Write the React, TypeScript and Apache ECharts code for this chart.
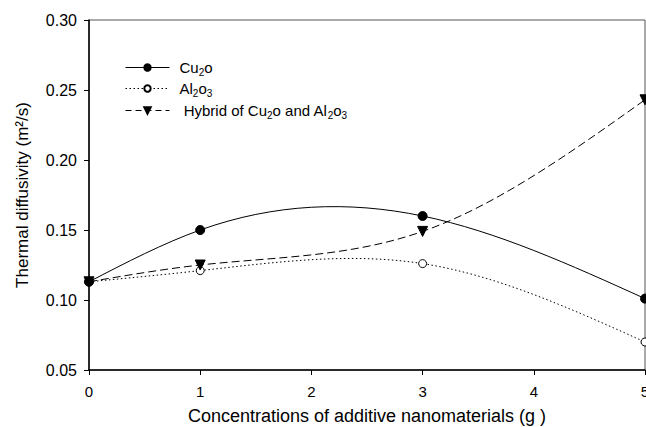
import React, { useEffect, useRef } from "react";
import * as echarts from "echarts";

const xValues = [0, 1, 3, 5];
const cu2o = [0.113, 0.15, 0.16, 0.101];
const al2o3 = [0.113, 0.121, 0.126, 0.07];
const hybrid = [0.113, 0.125, 0.149, 0.243];
const yTicks = { min: 0.05, max: 0.3, interval: 0.05 };
const xTicks = { min: 0, max: 5, interval: 1 };

const FONT = "Liberation Sans, Arial, sans-serif";

// slopes of a natural cubic spline through the points (used only for the curve's shape)
function splineSlopes(xs: number[], ys: number[]): number[] {
  const n = xs.length;
  const h: number[] = [];
  for (let i = 0; i < n - 1; i++) h.push(xs[i + 1] - xs[i]);
  const M = new Array(n).fill(0);
  const m = n - 2;
  if (m > 0) {
    const a: number[] = [], b: number[] = [], c: number[] = [], r: number[] = [];
    for (let k = 0; k < m; k++) {
      const i = k + 1;
      a.push(h[i - 1]);
      b.push(2 * (h[i - 1] + h[i]));
      c.push(h[i]);
      r.push(6 * ((ys[i + 1] - ys[i]) / h[i] - (ys[i] - ys[i - 1]) / h[i - 1]));
    }
    for (let k = 1; k < m; k++) {
      const w = a[k] / b[k - 1];
      b[k] -= w * c[k - 1];
      r[k] -= w * r[k - 1];
    }
    const sol = new Array(m).fill(0);
    sol[m - 1] = r[m - 1] / b[m - 1];
    for (let k = m - 2; k >= 0; k--) sol[k] = (r[k] - c[k] * sol[k + 1]) / b[k];
    for (let k = 0; k < m; k++) M[k + 1] = sol[k];
  }
  const d: number[] = [];
  for (let i = 0; i < n - 1; i++) d.push((ys[i + 1] - ys[i]) / h[i] - (h[i] * (2 * M[i] + M[i + 1])) / 6);
  d.push((ys[n - 1] - ys[n - 2]) / h[n - 2] + (h[n - 2] * (M[n - 2] + 2 * M[n - 1])) / 6);
  return d;
}

export default function App() {
  const ref = useRef<HTMLDivElement>(null);
  useEffect(() => {
    const chart = echarts.init(ref.current!, null, { renderer: "svg" });
    const pairs = (ys: number[]) => xValues.map((x, i) => [x, ys[i]]);
    const curve = (name: string, ys: number[], dash: number[] | null) => {
      const d = splineSlopes(xValues, ys);
      return {
        name: name + "-curve",
        type: "custom",
        silent: true,
        z: 1,
        data: pairs(ys),
        renderItem: (params: any, api: any) => {
          if (params.dataIndex !== 0) return null;
          const p0 = api.coord([xValues[0], ys[0]]);
          let path = `M${p0[0]} ${p0[1]}`;
          for (let i = 0; i < xValues.length - 1; i++) {
            const h = xValues[i + 1] - xValues[i];
            const c1 = api.coord([xValues[i] + h / 3, ys[i] + (h * d[i]) / 3]);
            const c2 = api.coord([xValues[i + 1] - h / 3, ys[i + 1] - (h * d[i + 1]) / 3]);
            const p = api.coord([xValues[i + 1], ys[i + 1]]);
            path += ` C${c1[0]} ${c1[1]} ${c2[0]} ${c2[1]} ${p[0]} ${p[1]}`;
          }
          return {
            type: "path",
            shape: { pathData: path },
            style: { fill: "none", stroke: "#000", lineWidth: 1, lineDash: dash || undefined },
          };
        },
      };
    };
    const legendRich = {
      n: { fontSize: 15, fontFamily: FONT, color: "#000", lineHeight: 20, verticalAlign: "middle" },
      p: { fontSize: 15, fontFamily: FONT, color: "#000", lineHeight: 20, verticalAlign: "middle", padding: [0, 0, 0, 5] },
      s: { fontSize: 10, fontFamily: FONT, color: "#000", lineHeight: 10, verticalAlign: "bottom" },
    };
    const legendFormatter = (name: string) => {
      if (name === "Cu2o") return "{p|Cu}{s|2}{n|o}";
      if (name === "Al2o3") return "{p|Al}{s|2}{n|o}{s|3}";
      return "{p| Hybrid of Cu}{s|2}{n|o and Al}{s|2}{n|o}{s|3}";
    };
    const legendFor = (name: string, top: number, type: any) => ({
      orient: "vertical",
      left: 120,
      top,
      itemWidth: 44,
      itemHeight: 8,
      data: [{ name, lineStyle: { color: "#000", width: 1, type, opacity: 1 } }],
      textStyle: { fontFamily: FONT, fontSize: 15, color: "#000", rich: legendRich },
      formatter: legendFormatter,
    });
    chart.setOption({
      animation: false,
      backgroundColor: "#fff",
      grid: {
        left: 89, top: 20, right: 1, bottom: 57, show: true, borderColor: "#555", borderWidth: 1,
        outerBoundsMode: "none", containLabel: false,
      },
      legend: [
        legendFor("Cu2o", 55, "solid"),
        legendFor("Al2o3", 76, [1.5, 2.5]),
        legendFor("Hybrid", 98, [6, 4]),
      ],
      xAxis: {
        type: "value",
        ...xTicks,
        name: "Concentrations of additive nanomaterials (g )",
        nameLocation: "middle",
        nameGap: 37,
        nameTextStyle: { fontFamily: FONT, fontSize: 18, color: "#000" },
        axisLine: { show: true, lineStyle: { color: "#000", width: 1.5 } },
        axisTick: { show: true, inside: false, length: 5, lineStyle: { color: "#000" } },
        axisLabel: { fontFamily: FONT, fontSize: 15, color: "#000", margin: 14 },
        splitLine: { show: false },
      },
      yAxis: {
        type: "value",
        ...yTicks,
        name: "Thermal diffusivity (m²/s)",
        nameLocation: "middle",
        nameGap: 58,
        nameTextStyle: { fontFamily: FONT, fontSize: 17, color: "#000" },
        axisLine: { show: true, lineStyle: { color: "#000", width: 1.5 } },
        axisTick: { show: true, inside: false, length: 5, lineStyle: { color: "#000" } },
        axisLabel: { fontFamily: FONT, fontSize: 16, color: "#000", margin: 12, formatter: (v: number) => v.toFixed(2) },
        splitLine: { show: false },
      },
      series: [
        curve("Cu2o", cu2o, null),
        curve("Al2o3", al2o3, [1.5, 2.5]),
        curve("Hybrid", hybrid, [8, 4]),
        {
          name: "Cu2o",
          type: "line",
          data: pairs(cu2o),
          symbol: "circle",
          symbolSize: 9,
          lineStyle: { color: "#000", width: 1, opacity: 0 },
          itemStyle: { color: "#000", borderColor: "#000", borderWidth: 1 },
          z: 3,
        },
        {
          name: "Al2o3",
          type: "line",
          data: pairs(al2o3),
          symbol: "circle",
          symbolSize: 8,
          lineStyle: { color: "#000", width: 1, opacity: 0 },
          itemStyle: { color: "#fff", borderColor: "#000", borderWidth: 1 },
          z: 2,
        },
        {
          name: "Hybrid",
          type: "line",
          data: pairs(hybrid),
          symbol: "triangle",
          symbolRotate: 180,
          symbolSize: 10,
          lineStyle: { color: "#000", width: 1, opacity: 0 },
          itemStyle: { color: "#000", borderColor: "#000", borderWidth: 1 },
          z: 4,
        },
      ],
    });
    return () => chart.dispose();
  }, []);
  return <div ref={ref} style={{ width: 646, height: 427, position: "absolute", left: 0, top: 0 }} />;
}
